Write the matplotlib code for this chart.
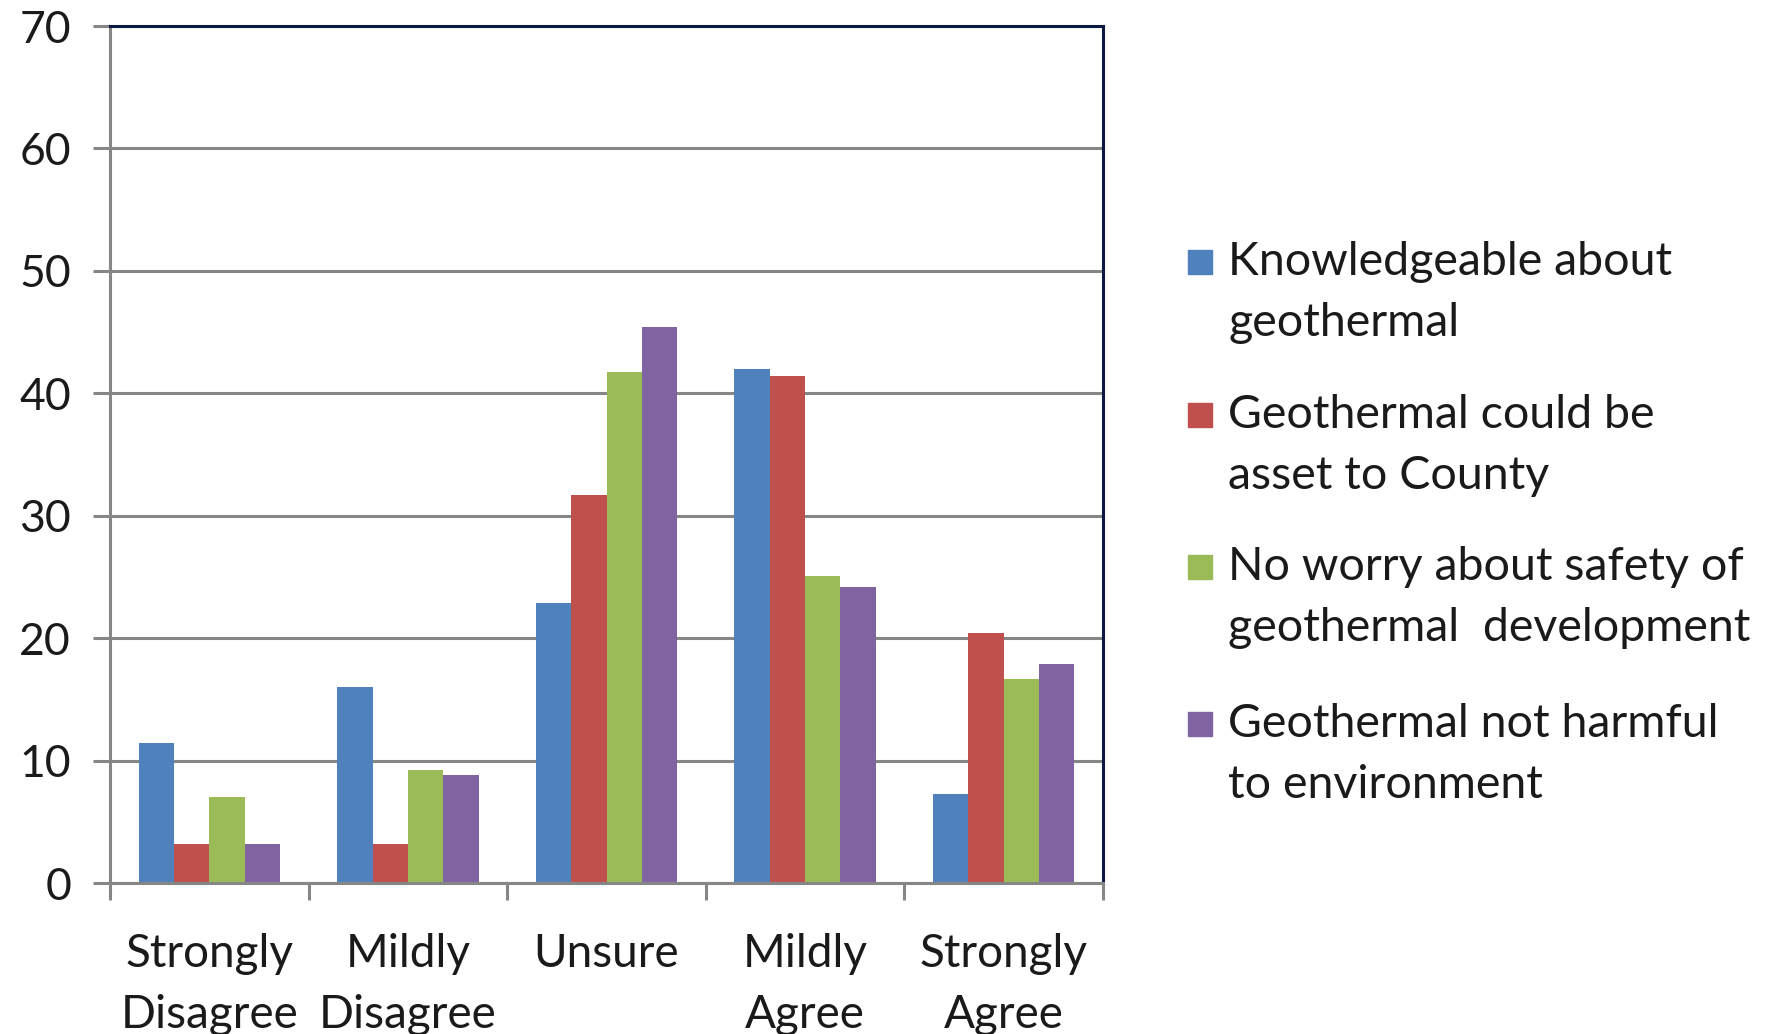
import numpy as np
import matplotlib
matplotlib.use("Agg")
import matplotlib.pyplot as plt
import matplotlib.patches as mpatches

# 回答カテゴリ
categories = ["Strongly\nDisagree", "Mildly\nDisagree", "Unsure", "Mildly\nAgree", "Strongly\nAgree"]

# 系列ごとの値 (%)
knowledgeable = [11.4, 16.0, 22.9, 42.0, 7.3]
asset_to_county = [3.2, 3.2, 31.7, 41.4, 20.4]
no_worry_safety = [7.0, 9.2, 41.7, 25.1, 16.7]
not_harmful = [3.2, 8.8, 45.4, 24.2, 17.9]

series_labels = [
    "Knowledgeable about\ngeothermal",
    "Geothermal could be\nasset to County",
    "No worry about safety of\ngeothermal  development",
    "Geothermal not harmful\nto environment",
]
y_ticks = [0, 10, 20, 30, 40, 50, 60, 70]

colors = ["#4F81BD", "#C0504D", "#9BBB59", "#8064A2"]
grid_gray = "#868686"
navy = "#0B1A40"

plt.rcParams["font.family"] = ["Lato", "DejaVu Sans"]

W, H = 1786, 1034
fig = plt.figure(figsize=(W / 100, H / 100), dpi=100)
ax = fig.add_axes([110 / W, 1 - 883 / H, (1103 - 110) / W, (883 - 26) / H])

series = [knowledgeable, asset_to_county, no_worry_safety, not_harmful]
x = np.arange(len(categories))
bw = 0.178
for i, vals in enumerate(series):
    ax.bar(x + (i - 1.5) * bw, vals, width=bw, color=colors[i], zorder=2)

ax.set_xlim(-0.5, len(categories) - 0.5)
ax.set_ylim(0, 70)
ax.set_yticks(y_ticks)
ax.set_yticklabels([str(t) for t in y_ticks], fontsize=32, color="#1a1a1a")
ax.yaxis.grid(True, color=grid_gray, linewidth=2.2, zorder=0)
ax.set_axisbelow(True)
ax.tick_params(axis="y", length=12, width=2.2, color=grid_gray, pad=16)

# x軸: ラベルは中央、目盛りはカテゴリの境界
ax.set_xticks(x)
ax.set_xticklabels(categories, fontsize=33, color="#1a1a1a", linespacing=1.55)
ax.tick_params(axis="x", which="major", length=0, pad=36)
ax.set_xticks(np.arange(len(categories) + 1) - 0.5, minor=True)
ax.tick_params(axis="x", which="minor", length=12, width=2.2, color=grid_gray)

for side in ["left", "bottom"]:
    ax.spines[side].set_color(grid_gray)
    ax.spines[side].set_linewidth(2.2)
for side in ["top", "right"]:
    ax.spines[side].set_color(navy)
    ax.spines[side].set_linewidth(2.2)

# 凡例 (四角は1行目に揃える)
line1_y = [262, 415, 567, 724]
for i, lab in enumerate(series_labels):
    yc = line1_y[i]
    sq = 24
    fig.patches.append(mpatches.Rectangle(
        (1188 / W, 1 - (yc + sq / 2) / H), sq / W, sq / H,
        transform=fig.transFigure, color=colors[i], figure=fig))
    l1, l2 = lab.split("\n")
    fig.text(1228 / W, 1 - yc / H, l1, fontsize=33.5, va="center", ha="left", color="#1a1a1a")
    fig.text(1228 / W, 1 - (yc + 61) / H, l2, fontsize=33.5, va="center", ha="left", color="#1a1a1a")

fig.savefig("out.png", dpi=100)
